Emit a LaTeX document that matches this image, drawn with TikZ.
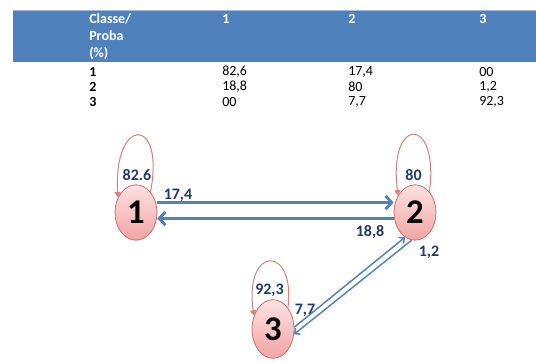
\documentclass[tikz,border=0pt]{standalone}
\usepackage{fontspec}
\setmainfont{Carlito}
\usetikzlibrary{arrows.meta,shapes.geometric}
\definecolor{band}{HTML}{4F81BD}
\definecolor{lab}{HTML}{1F3A6E}
\definecolor{loopc}{HTML}{D4817E}
\definecolor{nodeb}{HTML}{C86F6C}
\definecolor{ptop}{HTML}{FDE2E2}
\definecolor{pbot}{HTML}{F3A4A4}
\definecolor{arr}{HTML}{4F81BD}
\begin{document}
\begin{tikzpicture}[x=0.75pt,y=-0.75pt,
  hdr/.style={anchor=west, inner sep=0pt, text=white, font=\fontsize{10.5}{12}\selectfont\bfseries},
  cell/.style={anchor=west, inner sep=0pt, text=black, font=\fontsize{10.5}{12}\selectfont},
  rowlab/.style={cell, font=\fontsize{10.5}{12}\selectfont\bfseries},
  state/.style={ellipse, draw=nodeb, line width=0.6pt, top color=ptop, bottom color=pbot,
     minimum width=31.5pt, minimum height=41.5pt, inner sep=0pt,
     font=\fontsize{26}{26}\selectfont\bfseries},
  prob/.style={inner sep=0pt, text=lab, font=\fontsize{12}{14}\selectfont\bfseries},
  selfloop/.style={draw=loopc, line width=0.75pt, -{Triangle[length=4pt,width=4.5pt]}},
  bigarrow/.style={draw=arr, line width=2.2pt, -{Straight Barb[length=4.5pt,width=10pt]}},
  thinarrow/.style={draw=arr, line width=1.1pt, -{Straight Barb[length=3pt,width=6pt]}}]
\useasboundingbox (0,0) rectangle (536,363);
% table
\fill[band] (13,10) rectangle (536,62);
\draw[band!55!white, line width=0.6pt] (13,10) -- (536,10);
\node[hdr] (h0a) at (89,19) {Classe/};
\node[hdr] (h0b) at (89,36) {Proba};
\node[hdr] (h0c) at (89,53) {(\%)};
\node[hdr] (h1) at (222,19) {1};
\node[hdr] (h2) at (348,19) {2};
\node[hdr] (h3) at (479,19) {3};
\node[rowlab] (r1) at (89,72) {1};
\node[rowlab] (r2) at (89,87) {2};
\node[rowlab] (r3) at (89,102) {3};
\node[cell] (c11) at (222,72) {82,6};
\node[cell] (c12) at (348,72) {17,4};
\node[cell] (c13) at (479,72) {00};
\node[cell] (c21) at (222,87) {18,8};
\node[cell] (c22) at (348,87) {80};
\node[cell] (c23) at (479,87) {1,2};
\node[cell] (c31) at (222,102) {00};
\node[cell] (c32) at (348,102) {7,7};
\node[cell] (c33) at (479,102) {92,3};
% states
\node[state] (n1) at (136,212.5) {1};
\node[state] (n2) at (415,212.5) {2};
\node[state, minimum height=44pt] (n3) at (273,329) {3};
% self loops
\draw[selfloop] (n1.55) .. controls +(15,-77) and +(-5,-81) .. (n1.140);
\draw[selfloop] (n2.55) .. controls +(10,-77) and +(-10,-80) .. (n2.135);
\draw[selfloop] (n3.55) .. controls +(8,-63) and +(-10,-71) .. (n3.145);
% transitions
\draw[bigarrow] ([yshift=7.5pt]n1.east) -- ([yshift=7.5pt]n2.west);
\draw[bigarrow] ([yshift=-4.5pt]n2.west) -- ([yshift=-4.5pt]n1.east);
\draw[thinarrow] (n3.5) -- (n2.248);
\draw[thinarrow] (n2.263) -- (n3.-14);
% labels
\node[prob] (p11) at (137,175) {82.6};
\node[prob] (p12) at (178,195.5) {17,4};
\node[prob] (p22) at (413.5,175.5) {80};
\node[prob] (p21) at (370,232.5) {18,8};
\node[prob] (p23) at (429,252) {1,2};
\node[prob] (p33) at (269.5,290.5) {92,3};
\node[prob] (p32) at (305,310.5) {7,7};
\end{tikzpicture}
\end{document}
